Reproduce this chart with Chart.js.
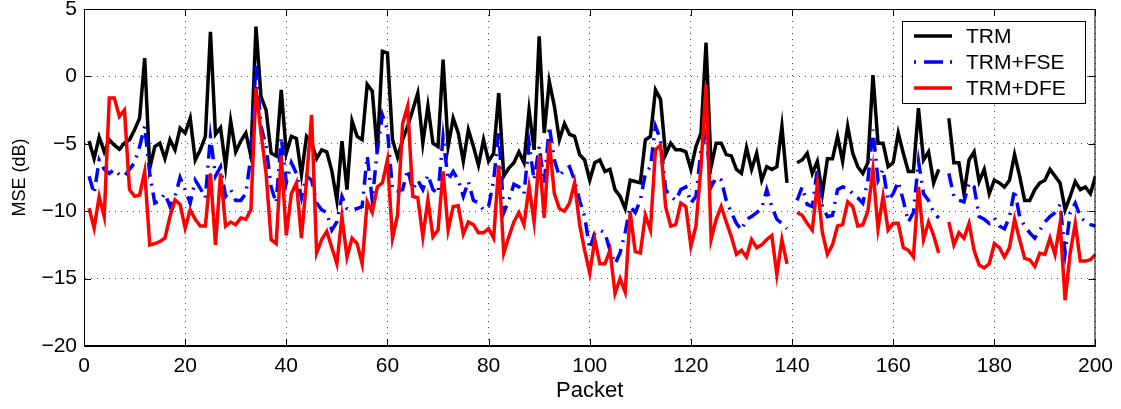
<!DOCTYPE html>
<html>
<head>
<meta charset="utf-8">
<script src="https://cdn.jsdelivr.net/npm/chart.js@4.4.0/dist/chart.umd.min.js"></script>
<style>
  html, body { margin: 0; padding: 0; background: #fff; }
  #wrap { width: 1121px; height: 409px; }
</style>
</head>
<body>
<div id="wrap"><canvas id="mseChart" width="1121" height="409"></canvas></div>
<script>
// tick labels
const xTicks = [0, 20, 40, 60, 80, 100, 120, 140, 160, 180, 200];
const yTicks = [-20, -15, -10, -5, 0, 5];
const seriesNames = ["TRM", "TRM+FSE", "TRM+DFE"];

// MSE (dB) per packet 1..200, null = missing packet
const trm = [
  -4.8, -6.1, -4.5, -5.6, -4.7, -5.1, -5.4, -4.95, -4.7, -3.96,
  -3.1, 1.36, -6.8, -5.2, -4.95, -6.1, -4.7, -5.45, -3.84, -4.2,
  -3.1, -6.2, -5.45, -4.45, 3.3, -4.3, -3.8, -6.7, -3.3, -5.6,
  -4.8, -4.2, -5.9, 3.7, -1.5, -2.5, -5.7, -5.9, -1.0, -5.7,
  -4.45, -4.6, -7.3, -4.45, -4.95, -6.1, -5.45, -5.6, -7.0, -9.2,
  -4.8, -8.4, -3.3, -4.45, -4.7, -0.6, -1.1, -5.6, 1.86, 1.73,
  -4.7, -6.0, -4.7, -3.7, -2.5, -1.24, -4.95, -2.2, -4.95, -5.2,
  1.24, -5.2, -3.1, -4.2, -6.3, -3.96, -5.2, -6.6, -4.7, -6.3,
  -5.7, -1.24, -7.4, -6.8, -6.4, -5.6, -6.4, -2.5, -5.45, 2.97,
  -4.2, -0.37, -2.2, -4.7, -3.5, -4.3, -4.45, -5.8, -6.2, -7.7,
  -6.4, -6.2, -7.05, -6.9, -8.4, -8.9, -9.8, -7.7, -7.8, -7.9,
  -4.7, -4.45, -1.0, -1.7, -5.8, -4.95, -5.45, -5.45, -5.6, -6.9,
  -5.2, -4.2, 2.5, -6.7, -4.95, -4.95, -5.8, -5.9, -6.9, -7.2,
  -5.3, -6.9, -5.7, -7.7, -6.7, -6.9, -6.7, -3.7, -7.9, null,
  -6.4, -6.2, -5.7, -7.2, -6.3, -8.7, -6.1, -6.1, -4.45, -6.3,
  -3.7, -5.7, -6.7, -7.2, -6.4, 0.1, -4.95, -4.95, -6.7, -6.4,
  -4.2, -5.7, -7.05, -7.05, -2.35, -6.2, -5.6, -7.9, -6.9, null,
  -3.1, -6.4, -6.4, -8.7, -6.2, -5.6, -7.8, -6.9, -8.7, -7.7,
  -7.9, -8.2, -7.7, -5.8, -7.4, -9.2, -9.2, -8.4, -7.9, -7.7,
  -6.9, -7.4, -7.9, -9.9, -8.9, -7.8, -8.4, -8.2, -8.7, -7.4
];

const trmFse = [
  -7.4, -8.7, -6.2, -6.9, -7.2, -6.9, -7.3, -7.4, -6.9, -6.4,
  -5.2, -3.7, -7.2, -9.4, -9.2, -8.7, -9.65, -8.9, -7.5, -8.4,
  -9.4, -7.7, -8.3, -9.0, -4.5, -7.4, -6.7, -8.9, -8.4, -9.2,
  -9.2, -8.7, -5.9, 1.0, -3.7, -5.2, -8.2, -9.4, -4.5, -7.9,
  -6.4, -7.2, -9.0, -7.4, -7.7, -9.4, -9.9, -10.1, -11.4, -10.8,
  -8.9, -9.8, -9.9, -9.8, -9.65, -5.9, -9.2, -5.45, -2.85, -3.96,
  -8.4, -8.5, -8.4, -6.9, -8.4, -7.7, -8.4, -7.3, -8.4, -8.7,
  -4.5, -7.7, -7.05, -7.7, -8.9, -7.8, -9.2, -9.4, -9.9, -9.65,
  -7.7, -4.1, -10.1, -9.2, -8.0, -8.2, -8.7, -4.95, -7.7, -5.2,
  -7.9, -3.7, -6.2, -7.4, -6.9, -6.7, -7.7, -9.2, -10.4, -12.8,
  -11.6, -11.4, -11.6, -12.9, -13.9, -13.1, -11.6, -9.65, -10.1, -9.2,
  -7.2, -6.7, -3.7, -4.7, -8.4, -8.9, -9.2, -8.4, -8.2, -9.4,
  -8.9, -5.45, -4.2, -8.2, -7.5, -7.7, -9.2, -10.1, -10.9, -11.4,
  -10.6, -10.4, -10.1, -9.8, -8.4, -9.65, -10.6, -10.9, -11.3, null,
  -9.2, -8.2, -9.5, -9.65, -6.9, -9.65, -10.4, -10.3, -8.4, -8.2,
  -8.3, -8.7, -9.0, -9.4, -7.7, -3.96, -7.7, -6.9, -9.2, -8.7,
  -7.8, -9.2, -10.8, -10.1, -6.3, -8.7, -9.2, -10.1, -10.5, null,
  -7.2, -8.9, -9.2, -9.3, -7.9, -8.2, -10.4, -10.6, -10.9, -10.5,
  -11.1, -11.3, -10.4, -8.4, -10.4, -11.1, -11.6, -12.0, -11.4, -10.8,
  -10.4, -10.1, -9.5, -13.1, -10.1, -9.4, -10.4, -10.8, -11.0, -11.1
];

const trmDfe = [
  -9.78, -11.26, -8.9, -10.4, -1.6, -1.6, -2.97, -2.5, -8.4, -8.9,
  -8.8, -7.05, -12.5, -12.4, -12.25, -12.0, -10.4, -9.16, -9.5, -11.26,
  -9.9, -10.6, -11.1, -11.1, -7.2, -12.5, -7.2, -11.1, -10.8, -11.0,
  -10.5, -10.6, -9.9, -0.87, -4.2, -7.2, -12.1, -12.4, -5.9, -11.8,
  -8.7, -7.9, -12.0, -7.7, -2.85, -13.1, -12.1, -11.5, -12.7, -13.9,
  -10.4, -13.4, -12.0, -12.4, -13.9, -9.3, -10.1, -8.2, -7.9, -6.2,
  -12.0, -10.3, -3.5, -2.2, -8.9, -9.0, -11.9, -9.16, -11.9, -11.4,
  -7.05, -11.4, -9.65, -9.6, -11.7, -10.8, -11.0, -11.6, -11.6, -11.3,
  -12.0, -6.6, -13.1, -11.9, -10.8, -10.1, -11.0, -8.2, -10.8, -5.9,
  -10.5, -4.8, -8.7, -9.8, -10.0, -9.4, -7.9, -11.0, -12.9, -14.6,
  -12.1, -13.9, -13.9, -12.9, -16.1, -15.0, -16.0, -10.1, -13.0, -13.1,
  -10.3, -11.4, -5.45, -5.1, -9.65, -11.1, -11.0, -9.4, -9.65, -12.6,
  -11.1, -6.7, -0.6, -12.1, -10.6, -9.65, -10.8, -11.9, -13.2, -12.9,
  -13.4, -12.1, -12.7, -12.5, -12.1, -11.8, -14.7, -12.1, -13.9, null,
  -10.1, -10.3, -10.9, -11.4, -8.0, -11.6, -13.2, -12.5, -11.1, -11.0,
  -9.3, -9.65, -11.1, -11.0, -10.0, -6.9, -11.3, -8.9, -11.4, -10.9,
  -10.9, -12.7, -12.9, -13.4, -8.2, -12.1, -10.8, -11.8, -13.1, null,
  -10.8, -12.5, -11.6, -12.0, -10.9, -12.9, -14.0, -14.2, -13.9, -12.4,
  -12.7, -13.4, -12.7, -10.6, -12.1, -13.5, -13.6, -14.1, -13.1, -13.2,
  -12.0, -13.2, -10.9, -16.6, -13.1, -10.9, -13.7, -13.7, -13.6, -13.2
];

const packets = trm.map((v, i) => i + 1);

function toPoints(values) {
  return values.map((v, i) => ({ x: packets[i], y: v }));
}

const fontFamily = "'Liberation Sans', Arial, Helvetica, sans-serif";
Chart.defaults.font.family = fontFamily;
Chart.defaults.font.size = 21;
Chart.defaults.color = "#000";

const dashes = [14, 7, 2, 7];

// box around the axes, inner tick marks and the legend
const matlabFrame = {
  id: "matlabFrame",
  afterDraw(chart) {
    const ctx = chart.ctx;
    const area = chart.chartArea;
    const xs = chart.scales.x;
    const ys = chart.scales.y;
    ctx.save();
    ctx.strokeStyle = "#000";
    ctx.lineWidth = 1;
    ctx.setLineDash([]);
    ctx.strokeRect(area.left + 0.5, area.top + 0.5, area.right - area.left - 1, area.bottom - area.top - 1);

    const tl = 7;
    ctx.beginPath();
    xTicks.forEach(t => {
      const px = Math.round(xs.getPixelForValue(t)) + 0.5;
      ctx.moveTo(px, area.bottom);
      ctx.lineTo(px, area.bottom - tl);
      ctx.moveTo(px, area.top);
      ctx.lineTo(px, area.top + tl);
    });
    yTicks.forEach(t => {
      const py = Math.round(ys.getPixelForValue(t)) + 0.5;
      ctx.moveTo(area.left, py);
      ctx.lineTo(area.left + tl, py);
      ctx.moveTo(area.right, py);
      ctx.lineTo(area.right - tl, py);
    });
    ctx.stroke();

    // legend
    const bx = 902, by = 21, bw = 183, bh = 82;
    ctx.fillStyle = "#fff";
    ctx.fillRect(bx, by, bw, bh);
    ctx.strokeRect(bx + 0.5, by + 0.5, bw, bh);
    const rows = [36, 62, 88];
    chart.data.datasets.forEach((ds, i) => {
      const y = rows[i];
      ctx.strokeStyle = ds.borderColor;
      ctx.lineWidth = ds.borderWidth;
      ctx.setLineDash(ds.borderDash ? [2, 8, 19, 7, 2, 100] : []);
      ctx.beginPath();
      ctx.moveTo(914, y);
      ctx.lineTo(952, y);
      ctx.stroke();
      ctx.setLineDash([]);
      ctx.fillStyle = "#000";
      ctx.font = "21px " + fontFamily;
      ctx.textBaseline = "middle";
      ctx.textAlign = "left";
      ctx.fillText(ds.label, 966, y + 1);
    });
    ctx.restore();
  }
};

new Chart(document.getElementById("mseChart"), {
  type: "line",
  data: {
    datasets: [
      {
        label: seriesNames[0],
        data: toPoints(trm),
        borderColor: "#000000",
        borderWidth: 3.5,
        pointRadius: 0,
        tension: 0,
        spanGaps: false,
        order: 3
      },
      {
        label: seriesNames[1],
        data: toPoints(trmFse),
        borderColor: "#0000ff",
        borderWidth: 3.5,
        borderDash: dashes,
        pointRadius: 0,
        tension: 0,
        spanGaps: false,
        order: 2
      },
      {
        label: seriesNames[2],
        data: toPoints(trmDfe),
        borderColor: "#ff0000",
        borderWidth: 3.5,
        pointRadius: 0,
        tension: 0,
        spanGaps: false,
        order: 1
      }
    ]
  },
  options: {
    responsive: false,
    animation: false,
    devicePixelRatio: 1,
    layout: {
      padding: { top: 9, right: 24, left: 0, bottom: 0 }
    },
    plugins: {
      legend: { display: false },
      tooltip: { enabled: false }
    },
    scales: {
      x: {
        type: "linear",
        min: 0,
        max: 200,
        afterBuildTicks: scale => {
          scale.ticks = xTicks.map(v => ({ value: v }));
        },
        afterFit: scale => {
          scale.height = 63;
        },
        ticks: {
          padding: 8,
          maxRotation: 0,
          autoSkip: false
        },
        grid: {
          color: "#555",
          lineWidth: 1,
          drawTicks: false
        },
        border: { display: true, color: "#000", dash: [1, 5] },
        title: {
          display: true,
          text: "Packet",
          font: { size: 22 },
          padding: { top: 0, bottom: 5 }
        }
      },
      y: {
        type: "linear",
        min: -20,
        max: 5,
        afterBuildTicks: scale => {
          scale.ticks = yTicks.map(v => ({ value: v }));
        },
        afterFit: scale => {
          scale.width = 84;
        },
        ticks: {
          padding: 0,
          font: { size: 21, lineHeight: 0.8 },
          callback: v => String(v).replace("-", "\u2212")
        },
        grid: {
          color: "#555",
          lineWidth: 1,
          drawTicks: true,
          tickLength: 7,
          tickColor: "rgba(0,0,0,0)"
        },
        border: { display: true, color: "#000", dash: [1, 5] },
        title: {
          display: true,
          text: "MSE (dB)",
          font: { size: 18 },
          padding: { top: 9, bottom: 0 }
        }
      }
    }
  },
  plugins: [matlabFrame]
});
</script>
</body>
</html>
